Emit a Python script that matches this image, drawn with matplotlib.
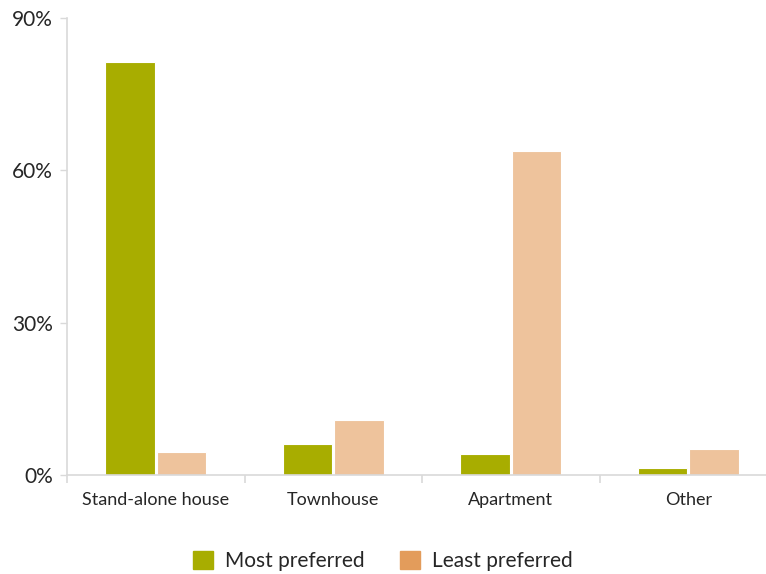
import numpy as np
import matplotlib.pyplot as plt
from matplotlib.patches import Patch

categories = ["Stand-alone house", "Townhouse", "Apartment", "Other"]
most_preferred = [81.3, 6.1, 4.1, 1.4]
least_preferred = [4.5, 10.8, 63.8, 5.1]

green = "#a8ad00"
orange = "#e39c5b"
peach = "#eec39c"
axis_grey = "#d9d9d9"
text_col = "#262626"

plt.rcParams["font.family"] = ["Lato", "DejaVu Sans"]

fig = plt.figure(figsize=(7.66, 5.74), dpi=100)
ax = fig.add_axes([67 / 766, 1 - 475 / 574, 710 / 766, 457 / 574])

x = np.arange(len(categories))
w = 0.28
ax.bar(x - 0.145, most_preferred, w, color=green, edgecolor="white", linewidth=0.8)
ax.bar(x + 0.145, least_preferred, w, color=peach, edgecolor="white", linewidth=0.8)

ax.set_xlim(-0.5, 3.5)
ax.set_ylim(0, 90)
ax.set_yticks([0, 30, 60, 90])
ax.set_yticklabels(["0%", "30%", "60%", "90%"])
ax.set_xticks(x)
ax.set_xticklabels(categories)

# category separators on the x axis
ax.set_xticks(np.arange(0, 4) - 0.5, minor=True)
ax.tick_params(axis="x", which="major", length=0, pad=12, labelsize=13, labelcolor=text_col)
ax.tick_params(axis="x", which="minor", length=6, color=axis_grey, width=1.2)
ax.tick_params(axis="y", length=5, color=axis_grey, width=1, labelsize=15, labelcolor=text_col, pad=5)

for side in ["top", "right"]:
    ax.spines[side].set_visible(False)
for side in ["left", "bottom"]:
    ax.spines[side].set_color(axis_grey)
    ax.spines[side].set_linewidth(1.2)

handles = [Patch(color=green, label="Most preferred"), Patch(color=orange, label="Least preferred")]
fig.legend(handles=handles, loc="center", bbox_to_anchor=(383 / 766, 1 - 561 / 574), ncol=2,
           frameon=False, fontsize=15, handlelength=0.95, handleheight=0.95,
           handletextpad=0.6, columnspacing=1.7, labelcolor=text_col)

fig.savefig("out.png", dpi=100)
